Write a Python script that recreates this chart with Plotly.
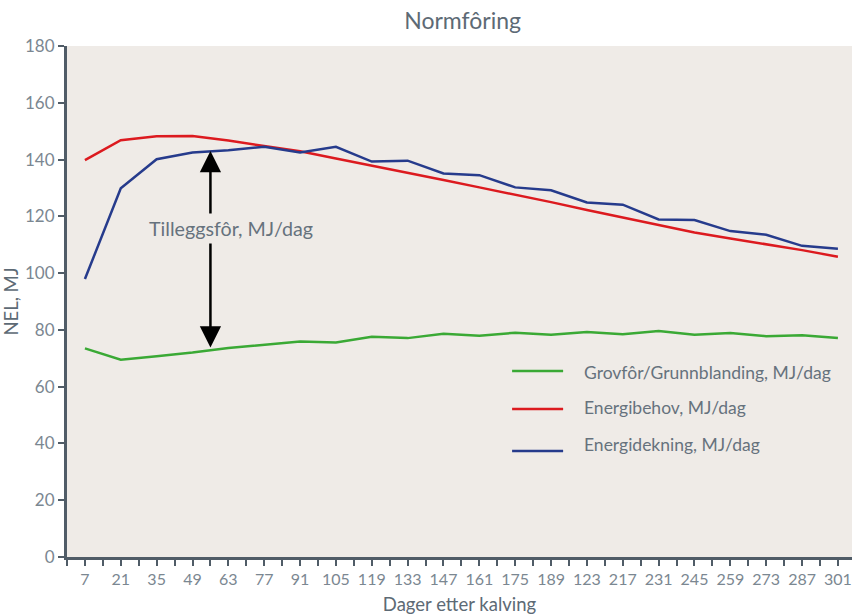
import plotly.graph_objects as go

# Days after calving (data points every 14 days)
days = [7, 21, 35, 49, 63, 77, 91, 105, 119, 133, 147, 161, 175, 189, 203, 217,
        231, 245, 259, 273, 287, 301]
tick_labels = ["7", "21", "35", "49", "63", "77", "91", "105", "119", "133", "147",
               "161", "175", "189", "123", "217", "231", "245", "259", "273", "287", "301"]

# NEL, MJ/day
grovfor = [73.5, 69.5, 70.7, 72.0, 73.6, 74.8, 75.9, 75.6, 77.6, 77.1, 78.6, 77.9,
           79.0, 78.3, 79.3, 78.5, 79.6, 78.3, 78.9, 77.8, 78.1, 77.1]
energibehov = [139.8, 146.8, 148.2, 148.3, 146.7, 144.7, 142.9, 140.4, 137.9, 135.5,
               132.8, 130.2, 127.7, 125.0, 122.2, 119.6, 116.9, 114.3, 112.2, 110.2,
               108.1, 105.8]
energidekning = [97.9, 129.9, 140.1, 142.5, 143.3, 144.5, 142.5, 144.5, 139.3, 139.6,
                 135.1, 134.5, 130.2, 129.2, 124.9, 124.1, 118.9, 118.7, 114.8, 113.5,
                 109.6, 108.6]

series_names = ["Grovfôr/Grunnblanding, MJ/dag", "Energibehov, MJ/dag", "Energidekning, MJ/dag"]
series_colors = ["#3aa935", "#dc1a1f", "#263b8c"]
series_values = [grovfor, energibehov, energidekning]

# Supplementary feed arrow (between roughage and energy supply)
arrow_day = 56
arrow_low = 73.3
arrow_high = 143.0

plot_bg = "#efebe7"
axis_col = "#505c67"
text_col = "#7b8791"
label_col = "#66727d"
font_family = "Lato, 'Open Sans', sans-serif"

fig = go.Figure()
for name, color, values in zip(series_names, series_colors, series_values):
    fig.add_trace(go.Scatter(x=days, y=values, mode="lines", name=name,
                             line=dict(color=color, width=2.5), showlegend=False))

fig.add_annotation(x=arrow_day, y=arrow_high, ax=arrow_day, ay=arrow_low,
                   xref="x", yref="y", axref="x", ayref="y", text="",
                   showarrow=True, arrowhead=2, startarrowhead=2, arrowside="end+start",
                   arrowsize=1.7, startarrowsize=1.7, arrowwidth=2.5, arrowcolor="#000000")
fig.add_annotation(x=64, y=115.7, xref="x", yref="y", text="Tilleggsfôr, MJ/dag",
                   showarrow=False, font=dict(size=19.7, color=label_col, family=font_family),
                   bgcolor=plot_bg, borderpad=3)

# Key inside the plot area: line sample + label per series
key_line_y = [0.364, 0.2896, 0.2074]
key_text_y = [0.362, 0.2916, 0.2211]
for name, color, ly, ty in zip(series_names, series_colors, key_line_y, key_text_y):
    fig.add_shape(type="line", xref="paper", yref="paper", x0=0.567, x1=0.632, y0=ly, y1=ly,
                  line=dict(color=color, width=2.5))
    fig.add_annotation(x=0.656, y=ty, xref="paper", yref="paper", text=name,
                       showarrow=False, xanchor="left", yanchor="middle",
                       font=dict(size=17.5, color=label_col, family=font_family))

fig.update_layout(
    width=852, height=615,
    margin=dict(l=67, r=0, t=46, b=58),
    paper_bgcolor="#ffffff",
    plot_bgcolor=plot_bg,
    font=dict(family=font_family, color=text_col, size=16),
    title=dict(text="Normfôring", x=0.543, xanchor="center", y=1 - 21 / 615, yanchor="middle",
               yref="container", font=dict(size=23, color="#5d6a75", family=font_family)),
    showlegend=False,
    xaxis=dict(range=[0, 306.5], tickvals=days, ticktext=tick_labels,
               showline=True, linecolor=axis_col, linewidth=3,
               ticks="outside", ticklen=6, tickwidth=2, tickcolor=axis_col,
               minor=dict(tick0=0, dtick=14, ticks="outside", ticklen=6, tickwidth=2,
                          tickcolor=axis_col, showgrid=False),
               showgrid=False, zeroline=False,
               tickfont=dict(size=16, color=text_col),
               title=dict(text="Dager etter kalving", standoff=13,
                          font=dict(size=18.5, color="#5d6a75"))),
    yaxis=dict(range=[0, 180], tickvals=list(range(0, 181, 20)),
               showline=True, linecolor=axis_col, linewidth=3,
               ticks="outside", ticklen=6, tickwidth=2, tickcolor=axis_col,
               showgrid=False, zeroline=False,
               tickfont=dict(size=17, color=text_col),
               title=dict(text="NEL, MJ", standoff=6,
                          font=dict(size=18.5, color="#5d6a75"))),
)

fig.write_html("out.html")
